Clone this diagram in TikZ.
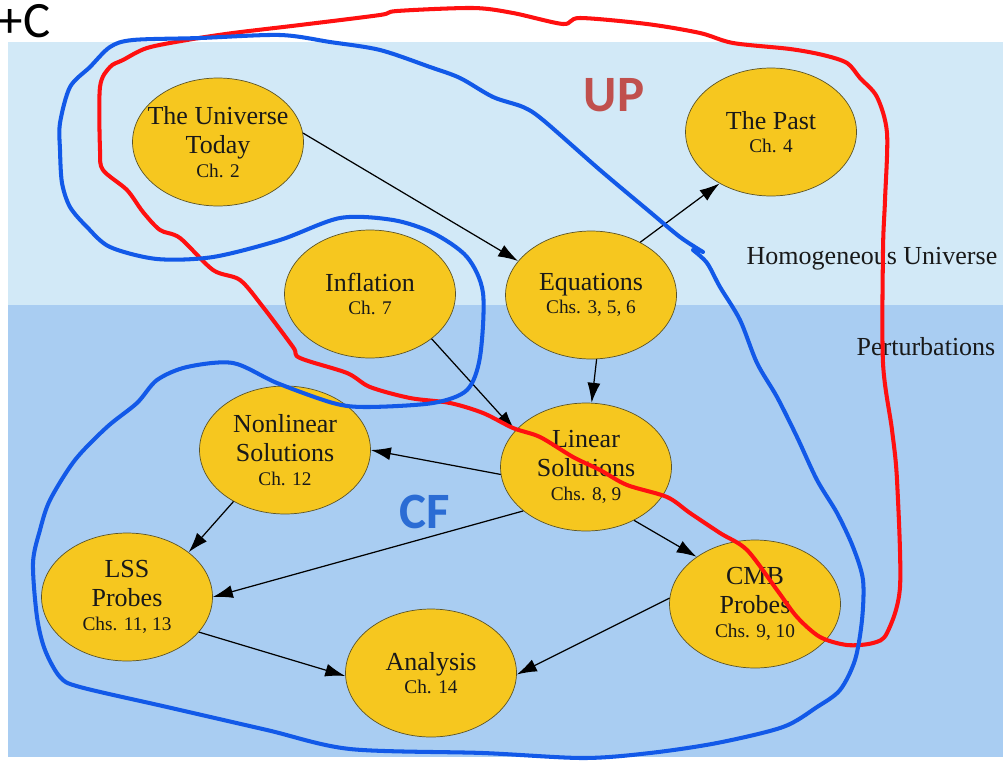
\documentclass[tikz,border=0pt]{standalone}
\usepackage{fontspec}
\setmainfont{Liberation Serif}
\newfontfamily\notefont{Carlito}
\usetikzlibrary{arrows.meta,shapes.geometric}
\definecolor{skytop}{HTML}{D2E9F7}
\definecolor{skybot}{HTML}{A9CDF2}
\definecolor{topicfill}{HTML}{F6C71F}
\definecolor{topicline}{HTML}{5C5428}
\definecolor{upred}{HTML}{C0504D}
\definecolor{cfblue}{HTML}{2B6CD4}
\definecolor{penred}{HTML}{FF1010}
\definecolor{penblue}{HTML}{1259E8}
\tikzset{
  topic/.style={ellipse, draw=topicline, fill=topicfill, align=center,
                text=black!90, font=\fontsize{14.8}{16.5}\selectfont,
                minimum width=3.42cm, minimum height=2.56cm,
                inner xsep=-6pt, inner ysep=0pt},
  link/.style={-{Latex[length=4mm,width=2.6mm]}, line width=0.7pt},
  pen/.style={line width=2.3pt, line join=round, line cap=round},
  layer/.style={font=\fontsize{14.8}{16}\selectfont, text=black!90},
  tag/.style={font=\notefont\bfseries\fontsize{29}{30}\selectfont},
}
\newcommand{\chap}[1]{\\[-3pt]{\fontsize{11}{13}\selectfont #1}}

\begin{document}
\begin{tikzpicture}[x=0.02cm, y=-0.02cm]
  \useasboundingbox (0,0) rectangle (1003,761);
  % backgrounds
  \fill[skytop] (8,42) rectangle (1003,305);
  \fill[skybot] (8,305) rectangle (1003,757);
  \node[layer] (hom) at (872,259) {Homogeneous Universe};
  \node[layer] (pert) at (926,347) {Perturbations};
  \node[font=\notefont\fontsize{29}{30}\selectfont] (plusc) at (24,21) {+C};

  % topics
  \node[topic] (ut) at (218,142) {The Universe\\Today\chap{Ch. 2}};
  \node[topic] (past) at (771,132) {The Past\chap{Ch. 4}};
  \node[topic] (infl) at (370,294) {Inflation\chap{Ch. 7}};
  \node[topic] (eq) at (591,295) {Equations\chap{Chs. 3, 5, 6}};
  \node[topic] (nonlin) at (285,450) {Nonlinear\\Solutions\chap{Ch. 12}};
  \node[topic] (lin) at (586,467) {Linear\\Solutions\chap{Chs. 8, 9}};
  \node[topic] (lss) at (127,597) {LSS\\Probes\chap{Chs. 11, 13}};
  \node[topic] (cmb) at (755,604) {CMB\\Probes\chap{Chs. 9, 10}};
  \node[topic] (ana) at (431,673) {Analysis\chap{Ch. 14}};

  \draw[link] (ut.6) -- (eq.155);
  \draw[link] (eq.47) -- (past.225);
  \draw[link] (eq.-85) -- (lin.85);
  \draw[link] (infl.-36) -- (lin.153);
  \draw[link] (lin.185) -- (nonlin.0);
  \draw[link] (nonlin.225) -- (lss.36);
  \draw[link] (lin.215) -- (lss.0);
  \draw[link] (lin.-48) -- (cmb.141);
  \draw[link] (lss.-26) -- (ana.182);
  \draw[link] (cmb.176) -- (ana.-1);

  % hand-drawn groupings
  \draw[pen, penred] plot[smooth cycle, tension=0.5] coordinates {
    (300,25) (380,15) (397,11) (473,8) (513,13) (563,24) (580,18) (647,24)
    (700,33) (733,43) (790,49) (823,55) (847,63) (860,78) (877,97) (887,133)
    (885,200) (883,250) (883,363) (892,430) (897,480) (900,587) (887,633)
    (873,643) (847,645) (820,637) (797,617) (777,590) (747,550) (720,533)
    (690,513) (667,497) (627,485) (600,470) (573,457) (540,437) (513,428)
    (483,413) (450,403) (410,398) (370,387) (347,373) (300,358) (293,347)
    (263,307) (240,280) (213,270) (180,238) (160,230) (143,212) (127,190)
    (103,170) (100,150) (100,87) (110,67) (123,60) (147,48) (187,40) (233,33)};
  \draw[pen, penblue] plot[smooth, tension=0.5] coordinates {
    (693,250) (707,263) (720,287) (740,320) (757,363) (777,397) (797,437)
    (817,480) (837,513) (853,547) (863,580) (862,620) (855,660) (840,690)
    (817,707) (783,727) (717,743) (650,753) (583,758) (483,753) (350,749)
    (267,730) (167,707) (80,687) (60,677) (45,650) (37,617) (33,563) (40,530)
    (50,500) (75,460) (107,427) (137,403) (157,380) (187,367) (233,363)
    (277,383) (333,403) (367,407) (433,403) (467,390) (480,357) (483,293)
    (467,257) (433,233) (393,220) (340,218) (280,240) (213,257) (157,259)
    (110,247) (87,227) (70,207) (62,183) (60,150) (60,123) (70,87) (90,67)
    (110,47) (133,40) (200,38) (280,35) (330,42) (380,50) (430,67) (460,78)
    (493,97) (523,107) (543,120) (600,170) (650,212) (680,237) (703,252)};

  \node[tag, text=upred] (up) at (614,95) {UP};
  \node[tag, text=cfblue] (cf) at (425,512) {CF};
\end{tikzpicture}
\end{document}
